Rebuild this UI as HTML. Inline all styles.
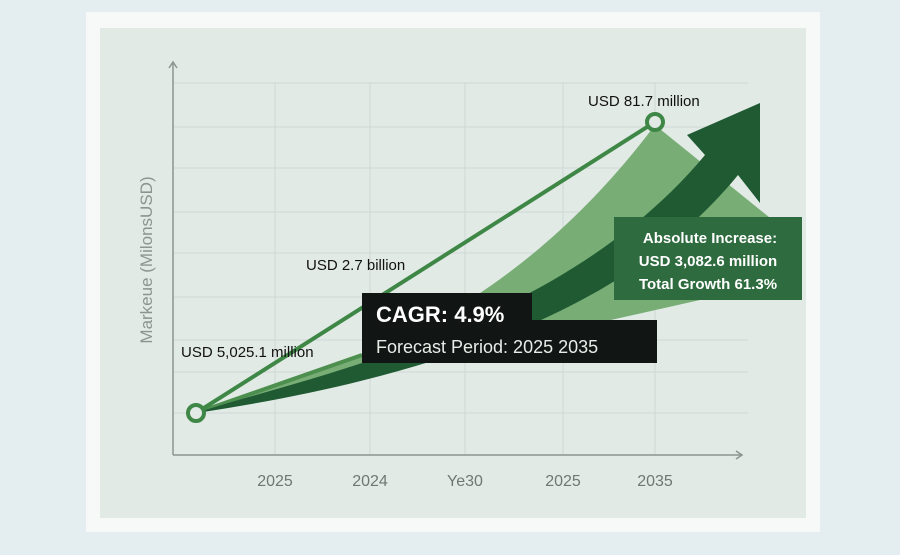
<!DOCTYPE html>
<html><head><style>
body{margin:0;width:900px;height:550px;overflow:hidden;background:#e4edf0;font-family:"Liberation Sans",sans-serif}
</style></head><body>
<svg width="900" height="550" viewBox="0 0 900 550" xmlns="http://www.w3.org/2000/svg" font-family="Liberation Sans, sans-serif">
<rect x="0" y="0" width="900" height="550" fill="#e4edf0"/>
<rect x="86" y="12" width="734" height="520" fill="#f7f9f8"/>
<rect x="100" y="28" width="706" height="490" fill="#e2eae6"/>
<g stroke="#cfd8d4" stroke-width="1">
<line x1="173" y1="83" x2="748" y2="83"/><line x1="173" y1="127" x2="748" y2="127"/>
<line x1="173" y1="168" x2="748" y2="168"/><line x1="173" y1="212" x2="748" y2="212"/>
<line x1="173" y1="253" x2="748" y2="253"/><line x1="173" y1="297" x2="748" y2="297"/>
<line x1="173" y1="340" x2="748" y2="340"/><line x1="173" y1="372" x2="748" y2="372"/>
<line x1="173" y1="413" x2="748" y2="413"/>
<line x1="275" y1="83" x2="275" y2="455"/><line x1="370" y1="83" x2="370" y2="455"/>
<line x1="465" y1="83" x2="465" y2="455"/><line x1="563" y1="83" x2="563" y2="455"/>
<line x1="655" y1="83" x2="655" y2="455"/>
</g>
<g stroke="#8a9590" stroke-width="1.5" fill="none">
<line x1="173" y1="455" x2="173" y2="62"/><polyline points="169,68 173,62 177,68"/>
<line x1="173" y1="455" x2="742" y2="455"/><polyline points="736,451 742,455 736,459"/>
</g>
<text transform="translate(152,260) rotate(-90)" text-anchor="middle" font-size="17" fill="#8a9590">Markeue (MilonsUSD)</text>
<g font-size="16" fill="#6e7773" text-anchor="middle">
<text x="275" y="486">2025</text><text x="370" y="486">2024</text><text x="465" y="486">Ye30</text><text x="563" y="486">2025</text><text x="655" y="486">2035</text>
</g>
<path d="M196,413 L360,355 C480,310 580,225 655,125 L785,230 L700,300 L196,413 Z" fill="#78ae76"/>
<line x1="196" y1="413" x2="362" y2="355" stroke="#4d8f4f" stroke-width="4"/>
<path d="M196,413 C300,378 560,330 705,155 L687,135 L760,103 L760,203 L738,175 C640,295 470,372 196,413 Z" fill="#1f5a33"/>
<line x1="196" y1="413" x2="655" y2="122" stroke="#3f8746" stroke-width="4"/>
<circle cx="196" cy="413" r="8" fill="#e2eae6" stroke="#3f8746" stroke-width="4"/>
<circle cx="655" cy="122" r="8" fill="#e2eae6" stroke="#3f8746" stroke-width="4"/>
<g font-size="15" fill="#111">
<text x="588" y="106">USD 81.7 million</text>
<text x="306" y="270">USD 2.7 billion</text>
<text x="181" y="357">USD 5,025.1 million</text>
</g>
<rect x="362" y="293" width="170" height="40" fill="#111614"/>
<rect x="362" y="320" width="295" height="43" fill="#111614"/>
<text x="376" y="322" font-size="22" font-weight="bold" fill="#fff">CAGR: 4.9%</text>
<text x="376" y="353" font-size="18" fill="#e8ece9">Forecast Period: 2025 2035</text>
<rect x="614" y="217" width="188" height="83" fill="#2e6b3e"/>
<g font-size="15" font-weight="bold" fill="#fff" text-anchor="middle">
<text x="710" y="243">Absolute Increase:</text>
<text x="708" y="266">USD 3,082.6 million</text>
<text x="708" y="289">Total Growth 61.3%</text>
</g>
</svg>
</body></html>
